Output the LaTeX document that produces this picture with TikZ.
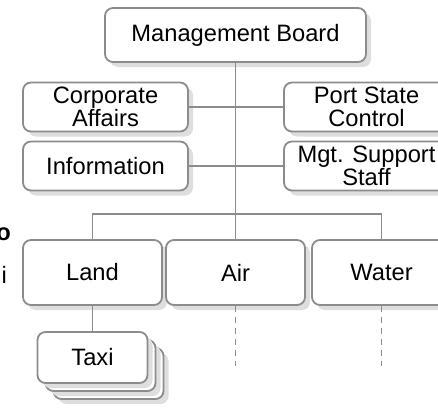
\documentclass[tikz,border=0pt]{standalone}
\usepackage{fontspec}
\setmainfont{Liberation Sans}
\usetikzlibrary{shadows}

\begin{document}
\begin{tikzpicture}[x=1pt,y=-1pt,
	unit/.style={draw=gray!90, line width=1.8pt, rounded corners=8pt, fill=white,
		inner sep=0pt, align=center, font=\fontsize{23.7pt}{22.5pt}\selectfont,
		drop shadow={shadow xshift=5pt, shadow yshift=-5pt, fill=black!13, opacity=1}},
	wide/.style={unit, minimum width=165pt, minimum height=49pt},
	branch/.style={unit, minimum width=139pt, minimum height=65pt},
	stack/.style={unit, minimum width=110pt, minimum height=51pt},
	link/.style={draw=gray!90, line width=1.8pt},
	cut/.style={font=\fontsize{23.7pt}{24pt}\selectfont, inner sep=0pt, anchor=base east}]
	\useasboundingbox (0,0) rectangle (438,407);

	\node[unit, minimum width=261pt, minimum height=54pt] (board) at (235.5,35) {Management Board};
	\node[wide] (corp) at (105.5,107) {Corporate\\Affairs};
	\node[wide] (info) at (105.5,166) {Information};
	\node[wide] (psc) at (366.5,107) {Port State\\Control};
	\node[wide] (mgt) at (366.5,166) {Mgt. Support\\Staff};

	\node[branch] (land) at (92.5,272.5) {Land};
	\node[branch] (air) at (235.5,272.5) {Air};
	\node[branch] (water) at (381.5,272.5) {Water};

	\node[stack] (taxiC) at (108.5,373.5) {};
	\node[stack] (taxiB) at (100.5,365.5) {};
	\node[stack] (taxi) at (92.5,357.5) {Taxi};

	\node[cut] (cutA) at (11,240) {\bfseries o};
	\node[cut] (cutB) at (7,283) {i};

	\coordinate (bus) at (235.5,214);
	\path[link] (board.south) -- (bus);
	\path[link] (corp.east) -- (psc.west);
	\path[link] (info.east) -- (mgt.west);
	\path[link] (land.north) |- (bus) -| (water.north);
	\path[link] (bus) -- (air.north);
	\path[link] (land.south) -- (taxi.north);
	\path[link, dash pattern=on 6pt off 5pt] (air.south) -- ++(0,60);
	\path[link, dash pattern=on 6pt off 5pt] (water.south) -- ++(0,60);
\end{tikzpicture}
\end{document}
